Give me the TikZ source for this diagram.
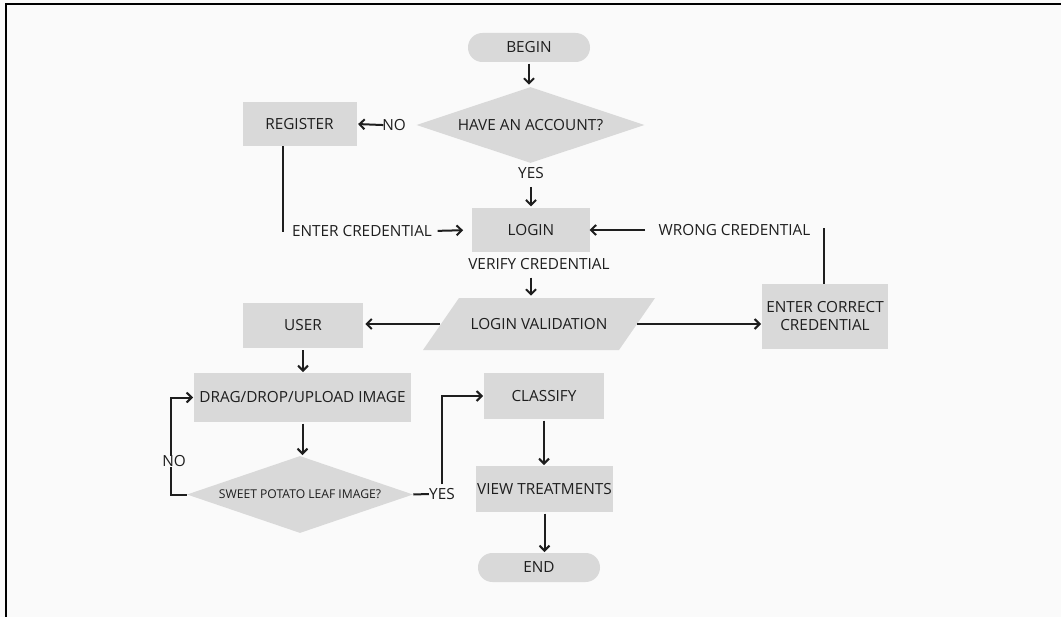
\documentclass[tikz,border=0pt]{standalone}
\usepackage{fontspec}
\setmainfont{Open Sans}
\usetikzlibrary{arrows.meta,shapes.geometric,calc}
\definecolor{paper}{HTML}{FAFAFA}
\definecolor{boxgray}{HTML}{D9D9D9}
\definecolor{ink}{HTML}{1E1E1E}
\tikzset{
  shp/.style={fill=boxgray, draw=none, text=ink, inner sep=0pt, align=center,
    font=\fontsize{11.5pt}{13.5pt}\selectfont},
  proc/.style={shp, rectangle},
  term/.style={shp, rectangle, rounded corners=10.8pt, minimum width=91.5pt, minimum height=21.75pt},
  decide/.style={shp, diamond},
  lbl/.style={text=ink, inner sep=0pt, font=\fontsize{11.5pt}{13.5pt}\selectfont},
  link/.style={draw=ink, line width=1.5pt},
  flow/.style={link, -{Straight Barb[length=3.8pt,width=7.5pt,line width=1.5pt]}},
}
\begin{document}
\begin{tikzpicture}[x=0.75pt,y=-0.75pt]
  % page and frame
  \fill[paper] (0,0) rectangle (1061,617);
  \useasboundingbox (0,0) rectangle (1061,617);
  \draw[black, line width=1.6pt] (1061,4) -- (6,4) -- (6,617);

  % slanted input/output block behind its label
  \coordinate (lvc) at (539,324);
  \fill[boxgray] ($(lvc)+(-80,-26)$) -- ($(lvc)+(116,-26)$)
    -- ($(lvc)+(80,26)$) -- ($(lvc)+(-116,26)$) -- cycle;

  % shapes
  \node[term] (begin) at (529,47.5) {BEGIN};
  \node[decide, aspect=3, minimum width=171pt, minimum height=57pt] (acct) at (530.5,125) {HAVE AN ACCOUNT?};
  \node[proc, minimum width=85.5pt, minimum height=33pt] (register) at (299.5,124) {REGISTER};
  \node[proc, minimum width=88.5pt, minimum height=33pt] (login) at (531,230) {LOGIN};
  \node[shp, fill=none, minimum width=147pt, minimum height=39pt] (lv) at (lvc) {LOGIN VALIDATION};
  \node[proc, minimum width=90pt, minimum height=33.75pt] (user) at (303,325.5) {USER};
  \node[proc, minimum width=94.5pt, minimum height=48.75pt] (ecc) at (825,316.5) {ENTER CORRECT\\CREDENTIAL};
  \node[proc, minimum width=162.75pt, minimum height=36.75pt] (drag) at (302.5,397.5) {DRAG/DROP/UPLOAD IMAGE};
  \node[decide, aspect=2.93, minimum width=169.5pt, minimum height=57.75pt,
    font=\fontsize{9.1pt}{11pt}\selectfont] (leaf) at (300,494.5) {SWEET POTATO LEAF IMAGE?};
  \node[proc, minimum width=90pt, minimum height=34.5pt] (classify) at (544,396) {CLASSIFY};
  \node[proc, minimum width=102.75pt, minimum height=34.5pt] (view) at (544.5,489) {VIEW TREATMENTS};
  \node[term] (end) at (539,567.5) {END};

  % connector labels
  \node[lbl] (no1) at (394,125) {NO};
  \node[lbl] (yes1) at (531,173) {YES};
  \node[lbl] (enter) at (362,231) {ENTER CREDENTIAL};
  \node[lbl] (wrong) at (734.5,230) {WRONG CREDENTIAL};
  \node[lbl] (verify) at (539,264.5) {VERIFY CREDENTIAL};
  \node[lbl] (no2) at (174,461.5) {NO};
  \node[lbl] (yes2) at (442,494) {YES};

  % free ends
  \coordinate (regEnd) at (283,232);
  \coordinate (eccEnd) at (824,228);
  \coordinate (loopX) at (171,0);
  \coordinate (yesX) at (442,0);
  \coordinate (lvL) at ($(lv.center)+(-99,0)$);
  \coordinate (lvR) at ($(lv.center)+(98,0)$);

  % connectors
  \draw[flow, shorten <=1pt, shorten >=1.5pt] (begin.south) -- (begin.south |- acct.north);
  \draw[flow, shorten <=-1pt, shorten >=1pt] (no1.west) -- (register.east);
  \draw[flow, shorten <=6pt, shorten >=1pt] (yes1.south) -- (yes1.south |- login.north);
  \draw[link] (register.south -| regEnd) -- (regEnd);
  \draw[flow, shorten <=4pt, shorten >=6.5pt] (enter.east) -- (login.west);
  \draw[link] (ecc.north -| eccEnd) -- (eccEnd);
  \draw[flow, shorten <=10pt, shorten >=-0.5pt] (wrong.west) -- (login.east);
  \draw[flow, shorten <=5.5pt, shorten >=1.5pt] (login.south |- verify.south) -- (login.south |- lv.north);
  \draw[flow, shorten >=1.5pt] (lvL) -- (lvL -| user.east);
  \draw[flow, shorten >=0.5pt] (lvR) -- (lvR -| ecc.west);
  \draw[flow, shorten <=1.5pt, shorten >=0.5pt] (user.south) -- (user.south |- drag.north);
  \draw[flow, shorten <=1pt, shorten >=0.5pt] (drag.south) -- (drag.south |- leaf.north);
  \draw[link] (leaf.west) -- (leaf.west -| loopX) -- (no2.south -| loopX);
  \draw[flow, shorten >=0.5pt] (no2.north -| loopX) |- (drag.west);
  \draw[link] (leaf.east) -- (yes2.west);
  \draw[flow, shorten <=3pt, shorten >=0.5pt] (yes2.north -| yesX) |- (classify.west);
  \draw[flow, shorten <=1pt, shorten >=0.5pt] (classify.south) -- (classify.south |- view.north);
  \draw[flow, shorten <=1pt, shorten >=0.5pt] (view.south) -- (view.south |- end.north);
\end{tikzpicture}
\end{document}
